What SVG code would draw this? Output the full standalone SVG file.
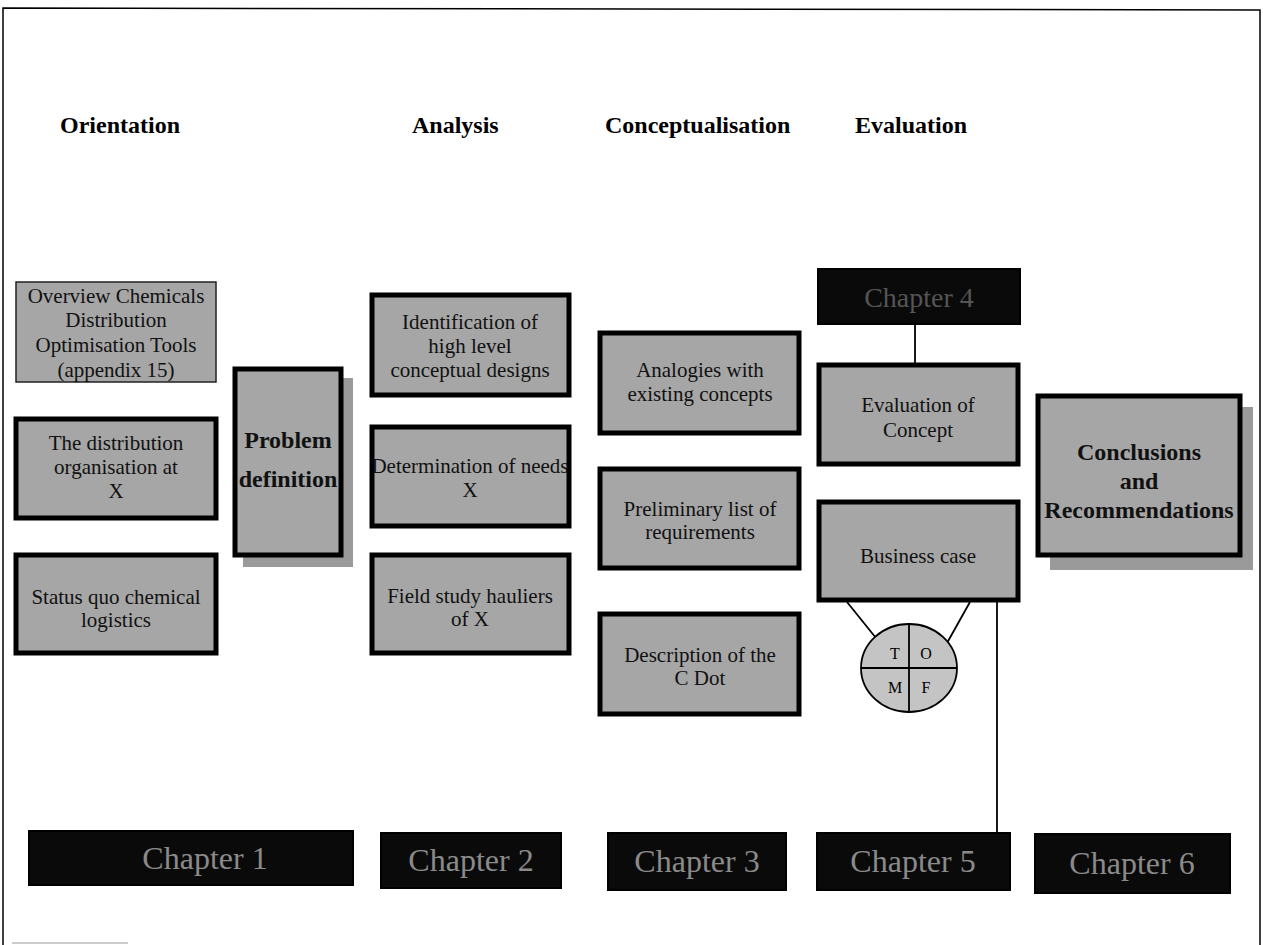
<svg xmlns="http://www.w3.org/2000/svg" width="1263" height="945" viewBox="0 0 1263 945">
<style>
.head{font-family:"Liberation Serif",serif;font-weight:bold;font-size:24px;fill:#000}
.t{font-family:"Liberation Serif",serif;font-size:21px;fill:#111;text-anchor:middle}
.tb{font-family:"Liberation Serif",serif;font-weight:bold;font-size:24px;fill:#111;text-anchor:middle}
.box{fill:#a6a6a6;stroke:#000;stroke-width:5}
.thin{fill:#a6a6a6;stroke:#222;stroke-width:1.5}
.shadow{fill:#9a9a9a;stroke:none}
.dark{fill:#0a0a0a;stroke:#000;stroke-width:2}
.ch{font-family:"Liberation Serif",serif;font-size:32px;fill:#8a8a8a;text-anchor:middle}
.l{stroke:#000;stroke-width:1.8;fill:none}
.tomf{font-family:"Liberation Serif",serif;font-size:16px;fill:#000;text-anchor:middle}
</style>
<rect width="1263" height="945" fill="#fff"/>
<path d="M3,945 L3,8 L1260,10 L1260,945" fill="none" stroke="#000" stroke-width="1.5"/>
<line x1="12" y1="943" x2="128" y2="943" stroke="#bbb" stroke-width="1.5"/>

<g id="headings">
<text class="head" x="60" y="133">Orientation</text>
<text class="head" x="412" y="133">Analysis</text>
<text class="head" x="605" y="133">Conceptualisation</text>
<text class="head" x="855" y="133">Evaluation</text>
</g>

<g id="connectors">
<line class="l" x1="915" y1="324" x2="915" y2="363"/>
<line class="l" x1="847" y1="602" x2="876" y2="638"/>
<line class="l" x1="970" y1="602" x2="947" y2="643"/>
<line class="l" x1="997" y1="602" x2="997" y2="833"/>
</g>

<g id="overview">
<rect class="thin" x="16" y="282" width="200" height="100"/>
<text class="t" x="116" y="303">Overview Chemicals</text>
<text class="t" x="116" y="327">Distribution</text>
<text class="t" x="116" y="352">Optimisation Tools</text>
<text class="t" x="116" y="377">(appendix 15)</text>
</g>
<g id="distribution">
<rect class="box" x="16" y="419" width="200" height="99"/>
<text class="t" x="116" y="450">The distribution</text>
<text class="t" x="116" y="474">organisation at</text>
<text class="t" x="116" y="498">X</text>
</g>
<g id="statusquo">
<rect class="box" x="16" y="555" width="200" height="98"/>
<text class="t" x="116" y="604">Status quo chemical</text>
<text class="t" x="116" y="627">logistics</text>
</g>
<g id="problem">
<rect class="shadow" x="243" y="378" width="110" height="189"/>
<rect class="box" x="235" y="369" width="106" height="186"/>
<text class="tb" x="288" y="448">Problem</text>
<text class="tb" x="288" y="487">definition</text>
</g>

<g id="identification">
<rect class="box" x="372" y="295" width="197" height="100"/>
<text class="t" x="470" y="329">Identification of</text>
<text class="t" x="470" y="353">high level</text>
<text class="t" x="470" y="377">conceptual designs</text>
</g>
<g id="needs">
<rect class="box" x="372" y="427" width="197" height="99"/>
<text class="t" x="470" y="473">Determination of needs</text>
<text class="t" x="470" y="497">X</text>
</g>
<g id="fieldstudy">
<rect class="box" x="372" y="555" width="197" height="98"/>
<text class="t" x="470" y="603">Field study hauliers</text>
<text class="t" x="470" y="626">of X</text>
</g>

<g id="analogies">
<rect class="box" x="600" y="333" width="199" height="100"/>
<text class="t" x="700" y="377">Analogies with</text>
<text class="t" x="700" y="401">existing concepts</text>
</g>
<g id="requirements">
<rect class="box" x="600" y="469" width="199" height="99"/>
<text class="t" x="700" y="516">Preliminary list of</text>
<text class="t" x="700" y="539">requirements</text>
</g>
<g id="cdot">
<rect class="box" x="600" y="614" width="199" height="100"/>
<text class="t" x="700" y="662">Description of the</text>
<text class="t" x="700" y="685">C Dot</text>
</g>

<g id="chapter4">
<rect class="dark" x="818" y="269" width="202" height="55"/>
<text class="ch" x="919" y="307" style="font-size:28px;fill:#555">Chapter 4</text>
</g>
<g id="evalconcept">
<rect class="box" x="819" y="365" width="199" height="99"/>
<text class="t" x="918" y="412">Evaluation of</text>
<text class="t" x="918" y="437">Concept</text>
</g>
<g id="business">
<rect class="box" x="819" y="502" width="199" height="98"/>
<text class="t" x="918" y="563">Business case</text>
</g>
<g id="tomf">
<ellipse cx="909" cy="668" rx="48" ry="44" fill="#c4c4c4" stroke="#000" stroke-width="1.8"/>
<line class="l" x1="909" y1="624" x2="909" y2="712"/>
<line class="l" x1="861" y1="668" x2="957" y2="668"/>
<text class="tomf" x="895" y="659">T</text>
<text class="tomf" x="926" y="659">O</text>
<text class="tomf" x="895" y="693">M</text>
<text class="tomf" x="926" y="693">F</text>
</g>

<g id="conclusions">
<rect class="shadow" x="1050" y="407" width="203" height="163"/>
<rect class="box" x="1038" y="396" width="202" height="159"/>
<text class="tb" x="1139" y="460">Conclusions</text>
<text class="tb" x="1139" y="489">and</text>
<text class="tb" x="1139" y="518">Recommendations</text>
</g>

<g id="chapter1">
<rect class="dark" x="29" y="831" width="324" height="54"/>
<text class="ch" x="205" y="869">Chapter 1</text>
</g>
<g id="chapter2">
<rect class="dark" x="381" y="833" width="180" height="55"/>
<text class="ch" x="471" y="871">Chapter 2</text>
</g>
<g id="chapter3">
<rect class="dark" x="608" y="833" width="178" height="57"/>
<text class="ch" x="697" y="872">Chapter 3</text>
</g>
<g id="chapter5">
<rect class="dark" x="817" y="833" width="193" height="57"/>
<text class="ch" x="913" y="872">Chapter 5</text>
</g>
<g id="chapter6">
<rect class="dark" x="1035" y="834" width="195" height="59"/>
<text class="ch" x="1132" y="874">Chapter 6</text>
</g>
</svg>
